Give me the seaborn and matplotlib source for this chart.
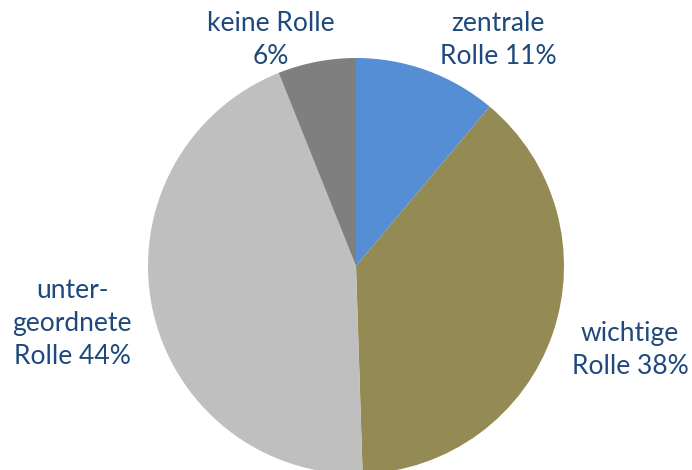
import seaborn as sns
import matplotlib
matplotlib.use("Agg")
from matplotlib import pyplot as plt

# data
labels = ["zentrale\nRolle 11%", "wichtige\nRolle 38%", "unter-\ngeordnete\nRolle 44%", "keine Rolle\n6%"]
shares = [11, 38, 44, 6]
colors = ["#558ED5", "#948A54", "#BFBFBF", "#7F7F7F"]

sns.set_theme(style="white")
plt.rcParams["font.family"] = ["Lato", "DejaVu Sans"]

W, H = 692, 470
cx, cy, r = 356, 266, 208  # pie centre / radius in pixels

fig = plt.figure(figsize=(W / 100, H / 100), dpi=100)
ax = fig.add_axes([0, 0, 1, 1])

ax.pie(shares, colors=colors, startangle=90, counterclock=False,
       radius=1, center=(0, 0), wedgeprops=dict(linewidth=0))

# map pixel space onto data units (1 unit = r pixels)
ax.set_xlim(-cx / r, (W - cx) / r)
ax.set_ylim(-(H - cy) / r, cy / r)
ax.set_aspect("auto")
ax.axis("off")

def px(x, y):
    return (x - cx) / r, (cy - y) / r

# label positions in pixels (centre of each text block)
label_pos = [(498, 40), (630, 350), (72, 324), (271, 40)]
for txt, (x, y) in zip(labels, label_pos):
    ax.text(*px(x, y), txt, ha="center", va="center", fontsize=19,
            color="#1F497D", linespacing=1.4)

fig.savefig("out.png", dpi=100)
